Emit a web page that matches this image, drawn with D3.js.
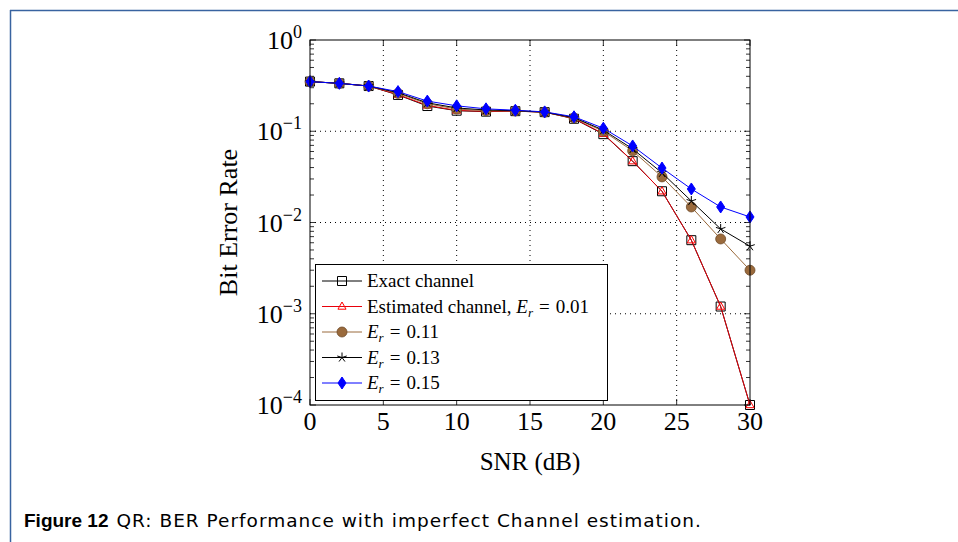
<!DOCTYPE html>
<html>
<head>
<meta charset="utf-8">
<script src="https://cdn.jsdelivr.net/npm/d3@7"></script>
<style>
  body { margin: 0; background: #fff; }
  svg { display: block; }
  .tick-label, .axis-label, .legend-text { font-family: "Liberation Serif", "DejaVu Serif", serif; fill: #000; }
  .caption { font-family: "DejaVu Sans", "Liberation Sans", sans-serif; fill: #000; }
</style>
</head>
<body>
<div id="chart"></div>
<script>
// data
var snr = [0, 2, 4, 6, 8, 10, 12, 14, 16, 18, 20, 22, 24, 26, 28, 30];
var exactChannel = [0.35, 0.335, 0.313, 0.25, 0.189, 0.168, 0.164, 0.166, 0.162, 0.137, 0.093, 0.047, 0.022, 0.0064, 0.0012, 0.0001];
var estChannel = [0.35, 0.335, 0.313, 0.252, 0.192, 0.169, 0.165, 0.166, 0.162, 0.138, 0.094, 0.047, 0.022, 0.0064, 0.0012, 0.0001];
var er011 = [0.35, 0.335, 0.313, 0.26, 0.2, 0.175, 0.168, 0.167, 0.162, 0.14, 0.1, 0.061, 0.0316, 0.0148, 0.0066, 0.0030];
var er013 = [0.35, 0.335, 0.313, 0.265, 0.205, 0.18, 0.171, 0.168, 0.162, 0.141, 0.103, 0.064, 0.035, 0.0172, 0.0085, 0.0055];
var er015 = [0.35, 0.335, 0.313, 0.272, 0.214, 0.19, 0.176, 0.17, 0.163, 0.144, 0.108, 0.069, 0.0395, 0.0233, 0.0148, 0.0115];
var xTicks = [0, 5, 10, 15, 20, 25, 30];
var yTickExps = [0, -1, -2, -3, -4];

var svgWidth = 958;
var svgHeight = 542;
// plot box in page pixels
var plot = { left: 310, right: 750, top: 40, bottom: 405 };

var svg = d3.select("#chart")
  .append("svg")
  .attr("width", svgWidth)
  .attr("height", svgHeight);

// page frame (left and top rules)
svg.append("line")
  .attr("x1", 10).attr("y1", 10.5).attr("x2", svgWidth).attr("y2", 10.5)
  .attr("stroke", "#3863a0").attr("stroke-width", 1.5);
svg.append("line")
  .attr("x1", 10.5).attr("y1", 10).attr("x2", 10.5).attr("y2", svgHeight)
  .attr("stroke", "#3863a0").attr("stroke-width", 1.5);

var x = d3.scaleLinear().domain([0, 30]).range([plot.left, plot.right]);
var y = d3.scaleLog().domain([1e-4, 1]).range([plot.bottom, plot.top]);

// dotted major grid
var grid = svg.append("g");
grid.selectAll(".vgrid")
  .data(xTicks.slice(1, -1))
  .enter().append("line")
  .attr("x1", d => x(d)).attr("x2", d => x(d))
  .attr("y1", plot.top).attr("y2", plot.bottom)
  .attr("stroke", "#000").attr("stroke-width", 1)
  .attr("stroke-dasharray", "1,4");
grid.selectAll(".hgrid")
  .data(yTickExps.slice(1, -1))
  .enter().append("line")
  .attr("y1", d => y(Math.pow(10, d))).attr("y2", d => y(Math.pow(10, d)))
  .attr("x1", plot.left).attr("x2", plot.right)
  .attr("stroke", "#000").attr("stroke-width", 1)
  .attr("stroke-dasharray", "1,4");

// ticks on all four sides, pointing inward
var ticks = svg.append("g").attr("stroke", "#000").attr("stroke-width", 0.8);
xTicks.forEach(function(t) {
  ticks.append("line").attr("x1", x(t)).attr("x2", x(t)).attr("y1", plot.bottom).attr("y2", plot.bottom - 6);
  ticks.append("line").attr("x1", x(t)).attr("x2", x(t)).attr("y1", plot.top).attr("y2", plot.top + 6);
});
var minorY = [];
for (var e = -4; e < 0; e++) {
  for (var m = 2; m <= 9; m++) minorY.push(m * Math.pow(10, e));
}
minorY.forEach(function(v) {
  ticks.append("line").attr("x1", plot.left).attr("x2", plot.left + 4).attr("y1", y(v)).attr("y2", y(v));
  ticks.append("line").attr("x1", plot.right).attr("x2", plot.right - 4).attr("y1", y(v)).attr("y2", y(v));
});
yTickExps.forEach(function(p) {
  var v = Math.pow(10, p);
  ticks.append("line").attr("x1", plot.left).attr("x2", plot.left + 6).attr("y1", y(v)).attr("y2", y(v));
  ticks.append("line").attr("x1", plot.right).attr("x2", plot.right - 6).attr("y1", y(v)).attr("y2", y(v));
});

// tick labels
svg.selectAll(".xlab")
  .data(xTicks)
  .enter().append("text")
  .attr("class", "tick-label")
  .attr("x", d => x(d))
  .attr("y", plot.bottom + 25)
  .attr("text-anchor", "middle")
  .attr("font-size", "26px")
  .text(d => d);

var ylab = svg.selectAll(".ylab")
  .data(yTickExps)
  .enter().append("text")
  .attr("class", "tick-label")
  .attr("x", plot.left - 8)
  .attr("y", d => y(Math.pow(10, d)) + 9)
  .attr("text-anchor", "end")
  .attr("font-size", "26px");
ylab.append("tspan").text("10");
ylab.append("tspan")
  .attr("dy", -11)
  .attr("font-size", "18px")
  .text(d => d === 0 ? "0" : "\u2212" + (-d));

// axis titles
svg.append("text")
  .attr("class", "axis-label")
  .attr("x", (plot.left + plot.right) / 2)
  .attr("y", 470)
  .attr("text-anchor", "middle")
  .attr("font-size", "25px")
  .text("SNR (dB)");
svg.append("text")
  .attr("class", "axis-label")
  .attr("transform", `translate(237, ${(plot.top + plot.bottom) / 2}) rotate(-90)`)
  .attr("text-anchor", "middle")
  .attr("font-size", "26px")
  .text("Bit Error Rate");

// marker shapes
function square(s) { return `M${-s},${-s}H${s}V${s}H${-s}Z`; }
function triangle(s) { return `M0,${-s}L${s * 0.9},${s * 0.6}L${-s * 0.9},${s * 0.6}Z`; }
function diamond(w, h) { return `M0,${-h}L${w},0L0,${h}L${-w},0Z`; }
function star(s) {
  var p = "";
  for (var i = 0; i < 5; i++) {
    var a = -Math.PI / 2 + i * 2 * Math.PI / 5;
    p += `M0,0L${s * Math.cos(a)},${s * Math.sin(a)}`;
  }
  return p;
}

var series = [
  { name: "Exact channel", values: exactChannel, color: "#000", marker: square(4.5), fill: "none", mstroke: "#000" },
  { name: "Estimated channel", values: estChannel, color: "#e8000b", marker: triangle(4.5), fill: "none", mstroke: "#ff0000" },
  { name: "0.11", values: er011, color: "#9a6a3c", marker: "circle", fill: "#9a6a3c", mstroke: "#6e4a28" },
  { name: "0.13", values: er013, color: "#000", marker: star(5), fill: "none", mstroke: "#000" },
  { name: "0.15", values: er015, color: "#0000ff", marker: diamond(4, 6), fill: "#0000ff", mstroke: "#0000ff" }
];

var line = d3.line()
  .x((d, i) => x(snr[i]))
  .y(d => y(d));

function drawMarker(g, s, cx, cy) {
  if (s.marker === "circle") {
    g.append("circle").attr("cx", cx).attr("cy", cy).attr("r", 5)
      .attr("fill", s.fill).attr("stroke", s.mstroke).attr("stroke-width", 0.8);
  } else {
    g.append("path").attr("d", s.marker)
      .attr("transform", `translate(${cx},${cy})`)
      .attr("fill", s.fill).attr("stroke", s.mstroke).attr("stroke-width", 1);
  }
}

series.forEach(function(s) {
  var g = svg.append("g");
  g.append("path")
    .datum(s.values)
    .attr("d", line)
    .attr("fill", "none")
    .attr("stroke", s.color)
    .attr("stroke-width", 1);
  s.values.forEach(function(v, i) { drawMarker(g, s, x(snr[i]), y(v)); });
});

// axis box
svg.append("rect")
  .attr("x", plot.left).attr("y", plot.top)
  .attr("width", plot.right - plot.left).attr("height", plot.bottom - plot.top)
  .attr("fill", "none").attr("stroke", "#000").attr("stroke-width", 1);

// legend
var leg = svg.append("g");
leg.append("rect")
  .attr("x", 315.5).attr("y", 264.5).attr("width", 292).attr("height", 136)
  .attr("fill", "#fff").attr("stroke", "#000").attr("stroke-width", 1);
function erLabel(t, value) {
  t.append("tspan").attr("font-style", "italic").text("E");
  t.append("tspan").attr("font-style", "italic").attr("font-size", "13px").attr("dy", 4).text("r");
  t.append("tspan").attr("dy", -4).attr("dx", 6).text("=");
  t.append("tspan").attr("dx", 6).text(value);
}
series.forEach(function(s, i) {
  var cy = 281 + i * 25.5;
  leg.append("line").attr("x1", 322).attr("x2", 362).attr("y1", cy).attr("y2", cy)
    .attr("stroke", s.color).attr("stroke-width", 1);
  drawMarker(leg, s, 342, cy);
  var t = leg.append("text").attr("class", "legend-text")
    .attr("x", 367).attr("y", cy + 6).attr("font-size", "19px");
  if (i === 0) {
    t.text(s.name);
  } else if (i === 1) {
    t.append("tspan").text("Estimated channel, ");
    erLabel(t, "0.01");
  } else {
    erLabel(t, s.name);
  }
});

// caption
var cap = svg.append("text").attr("class", "caption")
  .attr("x", 24).attr("y", 527).attr("font-size", "18.5px");
cap.append("tspan")
  .attr("font-family", "'Liberation Sans', sans-serif")
  .attr("font-weight", "bold")
  .attr("font-size", "19px")
  .text("Figure 12");
cap.append("tspan")
  .attr("dx", 8)
  .attr("letter-spacing", "1px")
  .text("QR: BER Performance with imperfect Channel estimation.");
</script>
</body>
</html>
